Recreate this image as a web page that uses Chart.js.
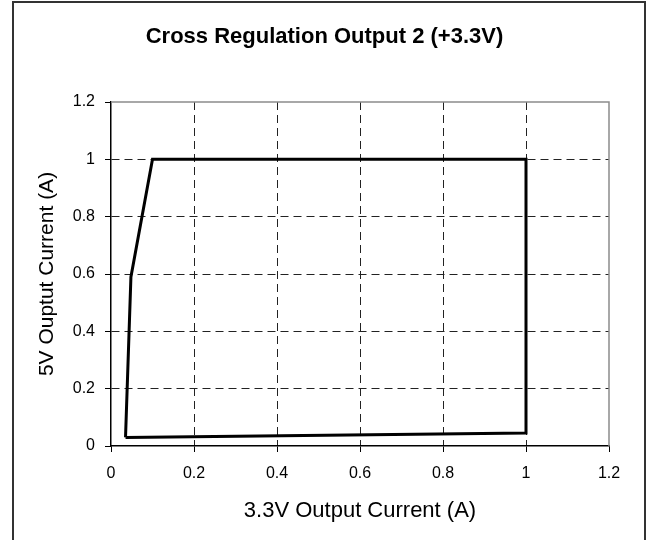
<!DOCTYPE html>
<html>
<head>
<meta charset="utf-8">
<script src="https://cdn.jsdelivr.net/npm/chart.js@4"></script>
<style>
  body { margin: 0; background: #fff; }
  #wrap { position: relative; width: 649px; height: 540px; overflow: hidden; }
  #frame { position: absolute; left: 12px; top: 1px; width: 634px; height: 600px; border: 2px solid #333; box-sizing: border-box; }
  #graph { position: absolute; left: 0; top: 0; }
</style>
</head>
<body>
<div id="wrap">
  <div id="frame"></div>
  <canvas id="graph" width="649" height="540"></canvas>
</div>
<script>
// Chart data
const current33 = [0.035, 0.048, 0.1, 1.0, 1.0, 0.035];
const current5 = [0.03, 0.59, 1.0, 1.0, 0.045, 0.03];
const xTicks = [0, 0.2, 0.4, 0.6, 0.8, 1, 1.2];
const yTicks = [0, 0.2, 0.4, 0.6, 0.8, 1, 1.2];

const FONT = "'Liberation Sans', Arial, sans-serif";

// plot frame on top / right in grey
const plotFrame = {
  id: 'plotFrame',
  afterDraw(chart) {
    const { ctx, chartArea: a } = chart;
    ctx.save();
    ctx.strokeStyle = '#8c8c8c';
    ctx.lineWidth = 1.5;
    ctx.beginPath();
    ctx.moveTo(a.left, a.top);
    ctx.lineTo(a.right, a.top);
    ctx.lineTo(a.right, a.bottom);
    ctx.stroke();
    ctx.restore();
  }
};

const gridColor = (c) => (c.tick && (c.tick.value === 0 || c.tick.value === 1.2)) ? 'rgba(0,0,0,0)' : '#222';

const ctx = document.getElementById('graph').getContext('2d');
new Chart(ctx, {
  type: 'scatter',
  data: {
    datasets: [{
      data: current33.map((x, i) => ({ x: x, y: current5[i] })),
      showLine: true,
      borderColor: '#000',
      borderWidth: 3,
      pointRadius: 0,
      tension: 0,
      fill: false
    }]
  },
  options: {
    responsive: false,
    animation: false,
    layout: { padding: 0 },
    plugins: {
      legend: { display: false },
      tooltip: { enabled: false },
      title: {
        display: true,
        text: 'Cross Regulation Output 2 (+3.3V)',
        color: '#000',
        font: { family: FONT, size: 22, weight: 'bold' },
        padding: { top: 24, bottom: 51.6 }
      }
    },
    scales: {
      x: {
        type: 'linear',
        min: 0,
        max: 1.2,
        afterBuildTicks: (s) => { s.ticks = xTicks.map(v => ({ value: v })); },
        afterFit: (s) => { s.height = 94; s.paddingRight = 40; },
        ticks: {
          color: '#000',
          font: { family: FONT, size: 16 },
          padding: 12,
          callback: (v) => String(v)
        },
        grid: { color: gridColor, tickColor: '#000', tickLength: 6, drawTicks: true },
        border: { color: '#000', width: 1.5, dash: [8, 5] },
        title: {
          display: true,
          text: '3.3V Output Current (A)',
          color: '#000',
          font: { family: FONT, size: 22 },
          padding: { top: 0, bottom: 16 }
        }
      },
      y: {
        type: 'linear',
        min: 0,
        max: 1.2,
        afterBuildTicks: (s) => { s.ticks = yTicks.map(v => ({ value: v })); },
        afterFit: (s) => { s.width = 111; },
        ticks: {
          color: '#000',
          font: { family: FONT, size: 16 },
          padding: 10,
          callback: (v) => String(v)
        },
        grid: { color: gridColor, tickColor: '#000', tickLength: 6, drawTicks: true },
        border: { color: '#000', width: 1.5, dash: [8, 5] },
        title: {
          display: true,
          text: '5V Ouptut Current (A)',
          color: '#000',
          font: { family: FONT, size: 21 },
          padding: { top: 35, bottom: 0 }
        }
      }
    }
  },
  plugins: [plotFrame]
});
</script>
</body>
</html>
